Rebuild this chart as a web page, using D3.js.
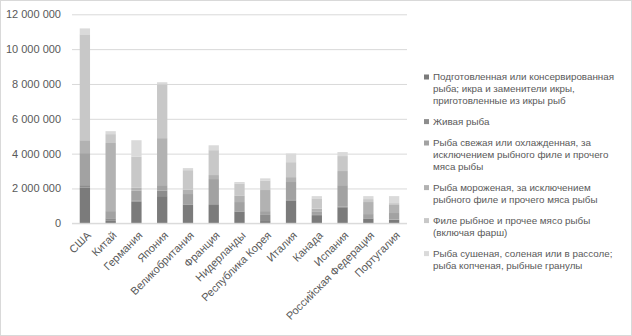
<!DOCTYPE html>
<html>
<head>
<meta charset="utf-8">
<script src="https://cdn.jsdelivr.net/npm/d3@7"></script>
<style>
	body { margin: 0; background: #fff; }
	svg text { font-family: "Liberation Sans", Arial, sans-serif; fill: #595959; }
</style>
</head>
<body>
<div id="chart"></div>
<script>
// categories
const countries = ["США", "Китай", "Германия", "Япония", "Великобритания", "Франция", "Нидерланды",
	"Республика Корея", "Италия", "Канада", "Испания", "Российская Федерация", "Португалия"]

// series (stacked bottom -> top)
const seriesNames = [
	["Подготовленная или консервированная", "рыба; икра и заменители икры,", "приготовленные из икры рыб"],
	["Живая рыба"],
	["Рыба свежая или охлажденная, за", "исключением рыбного филе и прочего", "мяса рыбы"],
	["Рыба мороженая, за исключением", "рыбного филе и прочего мяса рыбы"],
	["Филе рыбное и прочее мясо рыбы", "(включая фарш)"],
	["Рыба сушеная, соленая или в рассоле;", "рыба копченая, рыбные гранулы"],
]
const seriesColors = ["#7b7b7b", "#8d8d8d", "#a2a2a2", "#b2b2b2", "#c8c8c8", "#dadada"]

const prepared = [2060000, 140000, 1240000, 1560000, 1050000, 1050000, 670000, 130000, 1300000, 420000, 920000, 270000, 190000]
const live     = [130000, 150000, 80000, 310000, 40000, 50000, 30000, 350000, 40000, 60000, 30000, 30000, 20000]
const fresh    = [1840000, 410000, 550000, 320000, 590000, 1440000, 520000, 220000, 1030000, 210000, 1240000, 230000, 380000]
const frozen   = [740000, 3910000, 170000, 2700000, 250000, 230000, 380000, 1210000, 280000, 150000, 810000, 690000, 460000]
const fillet   = [6080000, 510000, 1780000, 3090000, 1120000, 1430000, 690000, 550000, 860000, 590000, 860000, 170000, 110000]
const dried    = [340000, 170000, 950000, 120000, 120000, 280000, 80000, 120000, 500000, 130000, 230000, 170000, 400000]

const yTicks = [0, 2000000, 4000000, 6000000, 8000000, 10000000, 12000000]

const W = 632, H = 336
const plot = { left: 72, right: 407, top: 14.3, bottom: 223.3 }

const svg = d3.select("#chart").append("svg")
	.attr("width", W)
	.attr("height", H)

svg.append("rect")
	.attr("x", 0.5).attr("y", 0.5)
	.attr("width", W - 1).attr("height", H - 1)
	.attr("fill", "#fff")
	.attr("stroke", "#d9d9d9")

const x = d3.scaleBand()
	.domain(countries)
	.range([plot.left, plot.right])
	.paddingInner(0.6)
	.paddingOuter(0.3)

const y = d3.scaleLinear()
	.domain([0, 12000000])
	.range([plot.bottom, plot.top])

// gridlines
svg.append("g")
	.attr("transform", `translate(${plot.left},0)`)
	.call(d3.axisLeft(y).tickValues(yTicks).tickSize(-(plot.right - plot.left)).tickFormat(""))
	.call((g) => g.select(".domain").remove())
	.selectAll("line")
	.attr("stroke", "#d9d9d9")

// y labels
const fmt = (d) => d3.format(",")(d).replace(/,/g, " ")
svg.append("g")
	.attr("transform", `translate(${plot.left},0)`)
	.call(d3.axisLeft(y).tickValues(yTicks).tickSize(0).tickPadding(11).tickFormat(fmt))
	.call((g) => g.select(".domain").remove())
	.selectAll("text")
	.style("font-size", "11px")
	.attr("fill", "#595959")

// stacked bars
const rows = countries.map((c, i) => ({
	country: c,
	s0: prepared[i], s1: live[i], s2: fresh[i], s3: frozen[i], s4: fillet[i], s5: dried[i],
}))
const keys = ["s0", "s1", "s2", "s3", "s4", "s5"]
const stacked = d3.stack().keys(keys)(rows)

svg.append("g")
	.selectAll("g")
	.data(stacked)
	.join("g")
	.attr("fill", (d, i) => seriesColors[i])
	.selectAll("rect")
	.data((d) => d)
	.join("rect")
	.attr("x", (d) => x(d.data.country))
	.attr("width", x.bandwidth())
	.attr("y", (d) => y(d[1]))
	.attr("height", (d) => y(d[0]) - y(d[1]))

// x axis line
svg.append("line")
	.attr("x1", plot.left).attr("x2", plot.right)
	.attr("y1", plot.bottom).attr("y2", plot.bottom)
	.attr("stroke", "#d9d9d9")

// x labels
svg.append("g")
	.selectAll("text")
	.data(countries)
	.join("text")
	.attr("transform", (d) => `translate(${x(d) + x.bandwidth() / 2 + 4},${plot.bottom + 10}) rotate(-45)`)
	.attr("text-anchor", "end")
	.attr("dy", "0.35em")
	.style("font-size", "11px")
	.text((d) => d)

// legend
const lineH = 11.6, gapH = 9.8
const legend = svg.append("g").attr("transform", "translate(424,77)")
let yy = 0
seriesNames.forEach((lines, i) => {
	const item = legend.append("g").attr("transform", `translate(0,${yy})`)
	item.append("rect")
		.attr("x", 0).attr("y", -2.5)
		.attr("width", 5).attr("height", 5)
		.attr("fill", seriesColors[i])
	item.selectAll("text")
		.data(lines)
		.join("text")
		.attr("x", 9)
		.attr("y", (d, j) => j * lineH)
		.attr("dy", "0.35em")
		.style("font-size", "9.8px")
		.text((d) => d)
	yy += lines.length * lineH + gapH
})
</script>
</body>
</html>
